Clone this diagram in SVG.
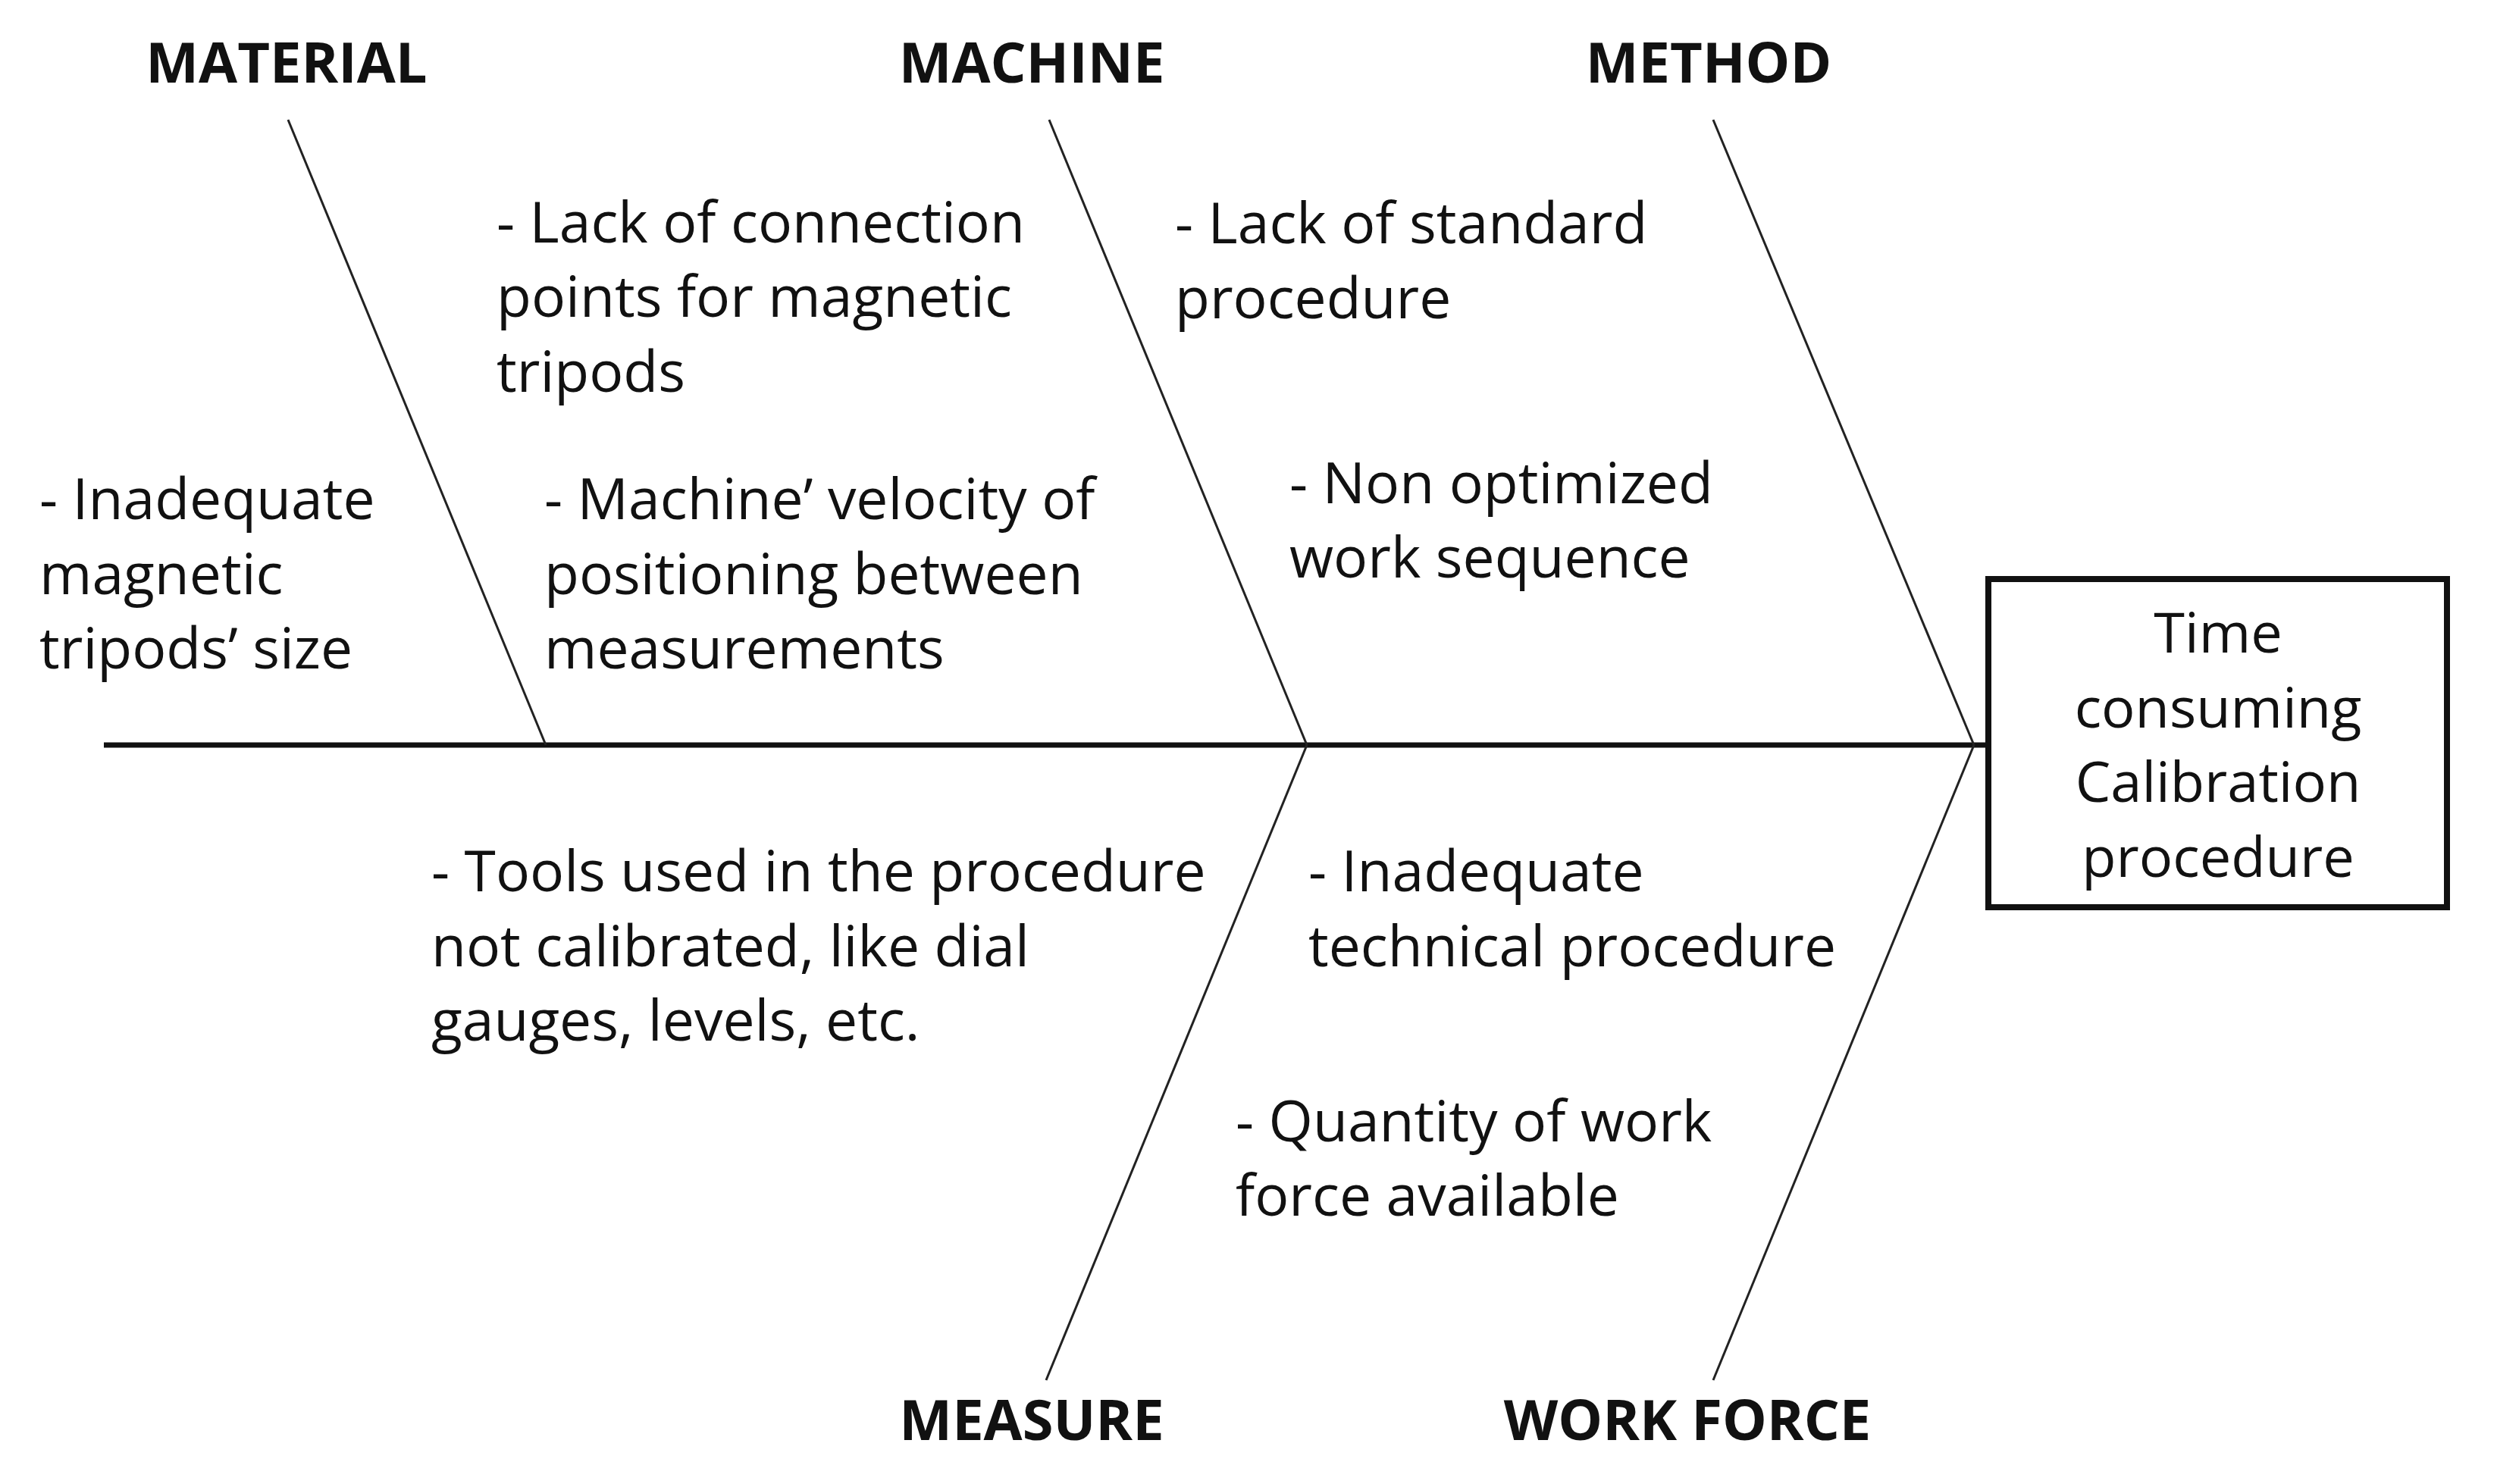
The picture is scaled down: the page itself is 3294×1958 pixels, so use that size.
<svg xmlns="http://www.w3.org/2000/svg" width="3294" height="1958" viewBox="0 0 3294 1958">
<style>
text{font-family:"Open Sans","Liberation Sans",sans-serif;fill:#111}
.t{font-size:74px;font-weight:bold;text-anchor:middle}
.b{font-size:75px}
.c{font-size:74px;text-anchor:middle}
.l{stroke:#222;stroke-width:3;fill:none}
</style>
<rect width="3294" height="1958" fill="#fff"/>
<g id="connectors">
<line x1="137" y1="983" x2="2625" y2="983" stroke="#111" stroke-width="7"/>
<line class="l" x1="380" y1="158" x2="720" y2="983"/>
<line class="l" x1="1384" y1="158" x2="1724" y2="983"/>
<line class="l" x1="2260" y1="158" x2="2604" y2="983"/>
<line class="l" x1="1724" y1="983" x2="1380" y2="1821"/>
<line class="l" x1="2604" y1="983" x2="2260" y2="1821"/>
</g>
<g id="effect">
<rect x="2623" y="764" width="605" height="433" fill="none" stroke="#111" stroke-width="8"/>
<text class="c"><tspan x="2926" y="861">Time</tspan><tspan x="2926" y="960">consuming</tspan><tspan x="2926" y="1058">Calibration</tspan><tspan x="2926" y="1157">procedure</tspan></text>
</g>
<g id="material"><text class="t" x="378" y="109">MATERIAL</text>
<text class="b"><tspan x="52" y="685">- Inadequate</tspan><tspan x="52" y="784">magnetic</tspan><tspan x="52" y="882">tripods’ size</tspan></text></g>
<g id="machine"><text class="t" x="1361" y="109">MACHINE</text>
<text class="b"><tspan x="655" y="320">- Lack of connection</tspan><tspan x="655" y="418">points for magnetic</tspan><tspan x="655" y="517">tripods</tspan></text>
<text class="b"><tspan x="718" y="685">- Machine’ velocity of</tspan><tspan x="718" y="784">positioning between</tspan><tspan x="718" y="882">measurements</tspan></text></g>
<g id="method"><text class="t" x="2254" y="109">METHOD</text>
<text class="b"><tspan x="1550" y="321">- Lack of standard</tspan><tspan x="1550" y="420">procedure</tspan></text>
<text class="b"><tspan x="1701" y="664">- Non optimized</tspan><tspan x="1701" y="762">work sequence</tspan></text></g>
<g id="measure"><text class="t" x="1361" y="1900">MEASURE</text>
<text class="b"><tspan x="569" y="1176">- Tools used in the procedure</tspan><tspan x="569" y="1275">not calibrated, like dial</tspan><tspan x="569" y="1373">gauges, levels, etc.</tspan></text></g>
<g id="workforce"><text class="t" x="2226" y="1900">WORK FORCE</text>
<text class="b"><tspan x="1726" y="1176">- Inadequate</tspan><tspan x="1726" y="1275">technical procedure</tspan></text>
<text class="b"><tspan x="1630" y="1506">-  Quantity of work</tspan><tspan x="1630" y="1604">force available</tspan></text></g>
</svg>
